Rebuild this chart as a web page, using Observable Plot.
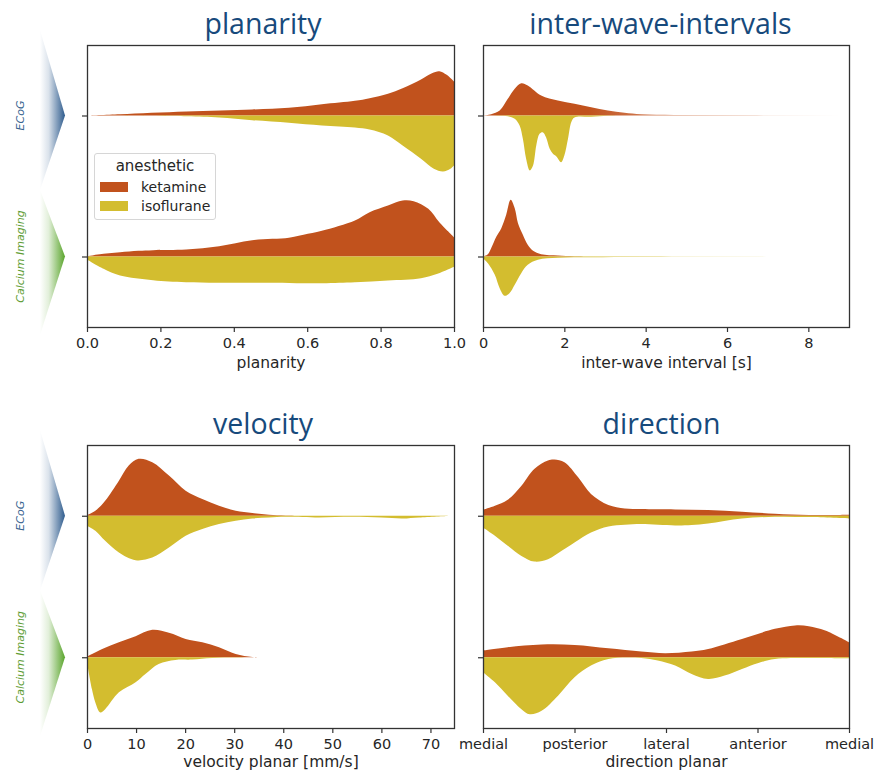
<!DOCTYPE html>
<html><head><meta charset="utf-8">
<script src="https://cdn.jsdelivr.net/npm/d3@7"></script>
<script src="https://cdn.jsdelivr.net/npm/@observablehq/plot@0.6"></script>
<style>
body{margin:0;background:#fff;}
#root{position:relative;width:875px;height:773px;overflow:hidden;font-family:"DejaVu Sans",sans-serif;}
.panel{position:absolute;}
.panel svg{overflow:visible;}
#legend{position:absolute;left:94px;top:153px;width:122px;height:67px;border:1px solid #d6d6d6;border-radius:3px;background:rgba(255,255,255,0.85);color:#262626;box-sizing:border-box;}
#legend .t{position:absolute;left:0;right:0;top:3px;text-align:center;font-size:15px;line-height:18px;}
#legend .row{position:absolute;left:5px;height:18px;display:flex;align-items:center;font-size:14px;line-height:18px;}
#legend .sw{width:28px;height:10px;margin-right:13px;}
</style></head><body><div id="root"></div>
<script>
// ---------- data (x, scaled density) ----------
const modalities = ["ECoG", "Calcium Imaging"];
const anesthetics = ["ketamine", "isoflurane"];
const colors = ["#c1521d", "#d3bd2f"];

const planarityTicks = [0, 0.2, 0.4, 0.6, 0.8, 1.0];
const planarityEcogKetamine = [[0,0],[0.09,1.3],[0.27,4],[0.45,6],[0.55,7.7],[0.64,11.3],[0.73,14.7],[0.77,17.3],[0.82,21.7],[0.86,27.3],[0.91,36],[0.94,42.3],[0.96,44.3],[0.98,40.7],[1.0,34]];
const planarityEcogIsoflurane = [[0,0],[0.27,0.7],[0.36,2],[0.45,4.7],[0.55,7.3],[0.64,10],[0.73,12],[0.77,14],[0.82,20],[0.86,30],[0.91,43.3],[0.945,53.3],[0.97,56],[0.99,53.3],[1.0,50]];
const planarityCalciumKetamine = [[0,0.3],[0.045,2.7],[0.09,4.3],[0.14,5.7],[0.18,6.3],[0.27,7],[0.36,10.3],[0.45,16.3],[0.55,18.7],[0.59,21.7],[0.64,25.7],[0.73,36],[0.77,44.3],[0.82,51],[0.86,56],[0.89,55.3],[0.93,47.7],[0.96,34.3],[1.0,19.3]];
const planarityCalciumIsoflurane = [[0,3],[0.045,12.3],[0.09,19],[0.18,23.7],[0.27,25.7],[0.45,26.3],[0.64,26.7],[0.73,25.7],[0.82,24],[0.91,21.7],[0.955,17.3],[1.0,10.3]];

const intervalTicks = [0, 2, 4, 6, 8];
const intervalEcogKetamine = [[0,0],[0.2,1.3],[0.41,5],[0.61,16.7],[0.78,26.7],[0.94,32.3],[1.1,30],[1.43,20],[1.84,15],[2.25,11.7],[2.66,8.3],[3.07,5],[3.48,2.7],[3.89,1.3],[4.7,0.6],[6.3,0.4],[9,0.2]];
const intervalEcogIsoflurane = [[0,0],[0.4,0.2],[0.61,0.7],[0.78,3.3],[0.9,10],[0.98,23.3],[1.06,43.3],[1.15,55],[1.23,50],[1.31,30],[1.39,18.3],[1.47,16.7],[1.55,21.7],[1.64,33.3],[1.72,38.3],[1.8,40.7],[1.92,46.7],[2.0,40],[2.09,23.3],[2.17,6.7],[2.25,2],[2.66,1.3],[3.07,0.3],[3.5,0]];
const intervalCalciumKetamine = [[0,0],[0.12,2.3],[0.2,8.3],[0.33,20],[0.45,28.3],[0.57,41.7],[0.68,56.7],[0.78,48.3],[0.86,33.3],[0.98,21.7],[1.1,11.7],[1.23,5.7],[1.43,2.3],[1.84,1],[2.25,0.3],[3.07,0]];
const intervalCalciumIsoflurane = [[0,1.7],[0.12,6.7],[0.29,18.3],[0.41,31.7],[0.53,39.3],[0.65,36.7],[0.78,28.3],[0.94,16.7],[1.1,8.3],[1.35,3.3],[1.84,1.3],[2.66,0.8],[3.89,0.5],[6,0.3],[8,0.1]];

const velocityTicks = [0, 10, 20, 30, 40, 50, 60, 70];
const velocityEcogKetamine = [[0,0.7],[1.7,5],[3.7,15],[6.5,35],[8.5,50],[10.5,56.7],[13.3,53.3],[16.7,40],[20.1,25],[23.5,16.7],[26.9,10],[30.3,5],[33.7,2.7],[37.1,1],[40.5,0.3],[47,0]];
const velocityEcogIsoflurane = [[0,10],[1.7,15],[3.7,25],[6.5,36.7],[9.9,44.3],[13.3,41.7],[16.7,31.7],[20.1,20],[23.5,13.3],[26.9,8.3],[30.3,5],[33.7,2.7],[37.1,1.7],[40.5,1],[47.3,1.7],[54,1],[60,1.8],[64.3,2.7],[67.7,1.7],[73.5,0.2]];
const velocityCalciumKetamine = [[0,0.7],[3.1,8.3],[6.5,15],[9.9,21],[13.3,27.3],[16.7,24.3],[20.1,18.3],[23.5,15],[26.9,10],[30.3,3.3],[33.7,0.3],[35.7,0]];
const velocityCalciumIsoflurane = [[0,5],[1,31.7],[1.7,45],[2.7,55],[3.7,51.7],[6.5,35],[9.9,25],[11.9,16.7],[14.6,6.7],[18,2.7],[21.4,2.3],[25.5,0.7],[30.3,0.3],[33,0]];

const directionTicks = [0, 1, 2, 3, 4];
const directionTickLabels = ["medial", "posterior", "lateral", "anterior", "medial"];
const directionEcogKetamine = [[0,6],[0.13,10],[0.27,16],[0.42,30],[0.56,46.7],[0.71,55],[0.78,56],[0.89,53.3],[1.04,38.3],[1.18,21.7],[1.37,10.7],[1.55,7.3],[1.73,6.7],[2.1,6.3],[2.46,5.7],[2.83,4],[3.19,2],[3.56,0.7],[4.0,1]];
const directionEcogIsoflurane = [[0,11.7],[0.13,20],[0.27,30],[0.42,40],[0.56,45.7],[0.71,43.3],[0.86,35],[1.0,26.7],[1.18,16.7],[1.37,10.7],[1.55,9],[1.73,8.3],[2.1,9.7],[2.28,9.3],[2.46,7.7],[2.83,2.7],[3.19,1],[3.56,1.3],[4.0,2.7]];
const directionCalciumKetamine = [[0,6.7],[0.27,10],[0.64,12.7],[1.0,12.3],[1.37,9],[1.73,5.7],[1.99,4],[2.28,5.7],[2.46,8.3],[2.83,18.3],[3.19,28.3],[3.41,31.7],[3.56,31],[3.74,26.7],[4.0,15]];
const directionCalciumIsoflurane = [[0,15],[0.13,25],[0.27,38.3],[0.42,51.7],[0.51,56.7],[0.64,53.3],[0.82,38.3],[1.0,20],[1.18,8.3],[1.37,1.7],[1.73,0.7],[1.91,3.3],[2.1,8.3],[2.28,16.7],[2.46,21.7],[2.64,18.3],[2.83,11.7],[3.01,5.7],[3.19,1.7],[3.56,0.7],[4.0,1]];

// ---------- build ----------
const densityMax = 56.4; // largest density reading -> half violin width 0.4
function rows(series) {
  const out = [];
  for (const [m, a, pts] of series) {
    for (const [x, d] of pts) {
      const w = d / densityMax * 0.4;
      out.push({key: m + "-" + a, anesthetic: anesthetics[a], modality: modalities[m], x, y1: m, y2: a === 0 ? m - w : m + w});
    }
  }
  return out;
}

const panels = [
  {title: "planarity", xlabel: "planarity", domain: [0, 1], ticks: planarityTicks, fmt: d3.format(".1f"),
   series: [[0,0,planarityEcogKetamine],[0,1,planarityEcogIsoflurane],[1,0,planarityCalciumKetamine],[1,1,planarityCalciumIsoflurane]],
   box: {left: 0, top: 0, width: 460, height: 380, ml: 87, mr: 6, mt: 45, mb: 53}, arrows: true, labelDy: 36, titleDx: -8},
  {title: "inter-wave-intervals", xlabel: "inter-wave interval [s]", domain: [0, 9], ticks: intervalTicks, fmt: d3.format("d"),
   series: [[0,0,intervalEcogKetamine],[0,1,intervalEcogIsoflurane],[1,0,intervalCalciumKetamine],[1,1,intervalCalciumIsoflurane]],
   box: {left: 460, top: 0, width: 415, height: 380, ml: 23, mr: 26, mt: 45, mb: 53}, labelDy: 36, fade: [2.6, 8.8], titleDx: -6},
  {title: "velocity", xlabel: "velocity planar [mm/s]", domain: [0, 74.8], ticks: velocityTicks, fmt: d3.format("d"),
   series: [[0,0,velocityEcogKetamine],[0,1,velocityEcogIsoflurane],[1,0,velocityCalciumKetamine],[1,1,velocityCalciumIsoflurane]],
   box: {left: 0, top: 400, width: 460, height: 373, ml: 87, mr: 6, mt: 45, mb: 45}, arrows: true, labelDy: 34, titleDx: -8},
  {title: "direction", xlabel: "direction planar", domain: [0, 4], ticks: directionTicks, fmt: (d, i) => directionTickLabels[i],
   series: [[0,0,directionEcogKetamine],[0,1,directionEcogIsoflurane],[1,0,directionCalciumKetamine],[1,1,directionCalciumIsoflurane]],
   box: {left: 460, top: 400, width: 415, height: 373, ml: 23, mr: 26, mt: 45, mb: 45}, labelDy: 34, titleDx: -5}
];

const root = document.getElementById("root");
const ink = "#262626";
const curve = "catmull-rom";

// arrows layer
const arrowSvg = d3.select(root).append("svg").attr("width", 90).attr("height", 773)
  .style("position", "absolute").style("left", "0px").style("top", "0px");
const defs = arrowSvg.append("defs");
[["gBlue", "#2f5c8e"], ["gGreen", "#5aa52c"]].forEach(([id, c]) => {
  const g = defs.append("linearGradient").attr("id", id).attr("x1", 0).attr("x2", 1).attr("y1", 0).attr("y2", 0);
  g.append("stop").attr("offset", "0%").attr("stop-color", c).attr("stop-opacity", 0);
  g.append("stop").attr("offset", "35%").attr("stop-color", c).attr("stop-opacity", 0.18);
  g.append("stop").attr("offset", "100%").attr("stop-color", c).attr("stop-opacity", 1);
});

let gid = 0;
for (const p of panels) {
  const b = p.box;
  const data = rows(p.series);
  const areaMarks = [];
  if (p.fade) {
    const ids = anesthetics.map(() => "fade" + (gid++));
    // gradient definitions placed through the plot's own x scale
    areaMarks.push((index, scales) => {
      const svg = d3.create("svg:defs");
      ids.forEach((id, i) => {
        const g = svg.append("linearGradient").attr("id", id).attr("gradientUnits", "userSpaceOnUse")
          .attr("x1", scales.x(p.fade[0])).attr("x2", scales.x(p.fade[1])).attr("y1", 0).attr("y2", 0);
        g.append("stop").attr("offset", "0%").attr("stop-color", colors[i]).attr("stop-opacity", 1);
        g.append("stop").attr("offset", "100%").attr("stop-color", colors[i]).attr("stop-opacity", 0);
      });
      return svg.node();
    });
    anesthetics.forEach((a, i) => areaMarks.push(
      Plot.areaY(data.filter(d => d.anesthetic === a), {x: "x", y1: "y1", y2: "y2", z: "key", fill: `url(#${ids[i]})`, curve})));
  } else {
    areaMarks.push(Plot.areaY(data, {x: "x", y1: "y1", y2: "y2", z: "key", fill: "anesthetic", curve}));
  }
  const chart = Plot.plot({
    width: b.width, height: b.height,
    marginLeft: b.ml, marginRight: b.mr, marginTop: b.mt, marginBottom: b.mb,
    style: {background: "transparent", fontFamily: "DejaVu Sans", fontSize: "14.5px", color: ink, overflow: "visible"},
    x: {domain: p.domain},
    y: {domain: [1.5, -0.5]},
    color: {domain: anesthetics, range: colors},
    marks: [
      ...areaMarks,
      Plot.frame({stroke: "#333", strokeWidth: 1.3}),
      Plot.axisX({ticks: p.ticks, tickFormat: p.fmt, tickSize: 5, tickPadding: 5, label: null, stroke: "#333", strokeWidth: 1.2, fill: ink, fontSize: 14.5}),
      Plot.axisY({ticks: [0, 1], tickFormat: () => "", tickSize: 5, label: null, stroke: "#333", strokeWidth: 1.2}),
      Plot.text([p.title], {frameAnchor: "top", lineAnchor: "middle", dy: -21, dx: p.titleDx, fontSize: 28.5, fontFamily: "Open Sans", fill: "#174a7c"}),
      Plot.text([p.xlabel], {frameAnchor: "bottom", lineAnchor: "middle", dy: p.labelDy, fontSize: 15.5, fill: ink})
    ]
  });
  const div = document.createElement("div");
  div.className = "panel";
  div.style.left = b.left + "px";
  div.style.top = b.top + "px";
  div.appendChild(chart);
  root.appendChild(div);

  if (p.arrows) {
    const ys = chart.scale("y");
    const y0 = b.top + ys.apply(0), y1 = b.top + ys.apply(1);
    const top = b.top + b.mt - 15, mid = (y0 + y1) / 2 + 4, bot = b.top + b.height - b.mb + 8;
    arrowSvg.append("polygon").attr("points", `40,${top} 65,${y0} 40,${mid}`).attr("fill", "url(#gBlue)");
    arrowSvg.append("polygon").attr("points", `40,${mid} 65,${y1} 40,${bot}`).attr("fill", "url(#gGreen)");
    [[y0, "#3a6591"], [y1, "#5d9c33"]].forEach(([yy, c], i) => {
      arrowSvg.append("text").attr("transform", `translate(20,${yy}) rotate(-90)`).attr("text-anchor", "middle")
        .attr("dominant-baseline", "central").attr("font-family", "DejaVu Sans").attr("font-style", "italic")
        .attr("font-size", 11).attr("fill", c).text(modalities[i]);
    });
  }
}

// legend
const lg = document.createElement("div");
lg.id = "legend";
lg.innerHTML = `<div class="t">anesthetic</div>` + anesthetics.map((a, i) =>
  `<div class="row" style="top:${24 + i * 19}px"><div class="sw" style="background:${colors[i]}"></div><span>${a}</span></div>`).join("");
root.appendChild(lg);
</script></body></html>
